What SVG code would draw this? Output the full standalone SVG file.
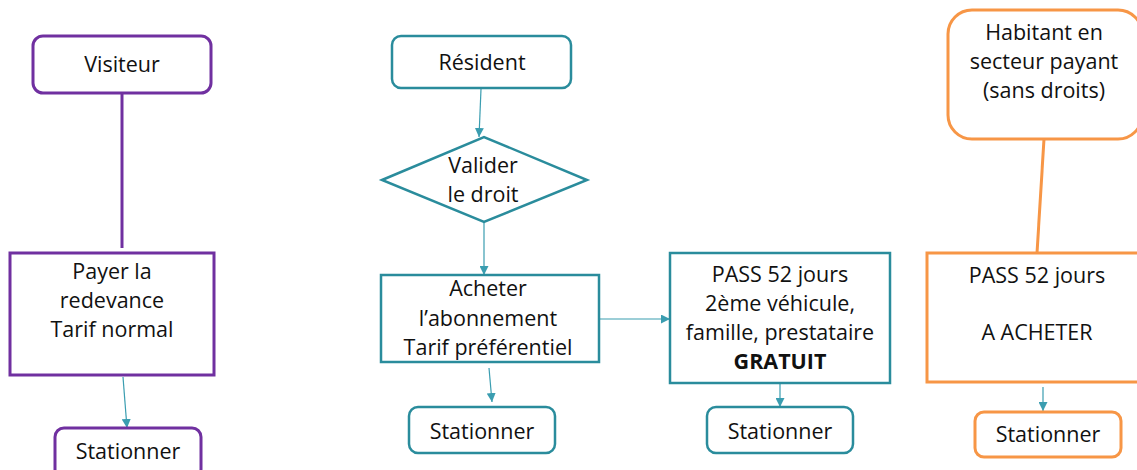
<svg xmlns="http://www.w3.org/2000/svg" width="1137" height="470" viewBox="0 0 1137 470">
<style>
text{font-family:"Open Sans","Liberation Sans",Arial,sans-serif;font-size:21.5px;fill:#111;text-anchor:middle}
.p{fill:#fff;stroke:#7030A0;stroke-width:3}
.t{fill:#fff;stroke:#2A8C9C;stroke-width:2.5}
.o{fill:#fff;stroke:#F79646;stroke-width:3}
.c{stroke:#3A9DB0;stroke-width:1.2;fill:none;marker-end:url(#ah)}
.b{font-weight:bold}
</style>
<defs>
<marker id="ah" viewBox="0 0 10 10" refX="10" refY="5" markerWidth="9" markerHeight="9" markerUnits="userSpaceOnUse" orient="auto">
<path d="M0,0 L10,5 L0,10 z" fill="#3A9DB0"/>
</marker>
</defs>
<rect width="1137" height="470" fill="#fff"/>
<g id="connectors">
<line x1="122" y1="93" x2="122" y2="248" stroke="#7030A0" stroke-width="3"/>
<line x1="123" y1="377" x2="127" y2="428" class="c"/>
<line x1="481" y1="89" x2="479" y2="137" class="c"/>
<line x1="484" y1="222" x2="484" y2="275" class="c"/>
<line x1="599" y1="319" x2="670" y2="319" class="c"/>
<line x1="489" y1="368" x2="492" y2="402" class="c"/>
<line x1="780" y1="384" x2="780" y2="407" class="c"/>
<line x1="1044" y1="139" x2="1037" y2="253" stroke="#F79646" stroke-width="3"/>
<line x1="1043" y1="387" x2="1043" y2="411" class="c"/>
</g>
<g id="visiteur"><rect class="p" x="33" y="36" width="178" height="57" rx="10"/><text x="122" y="72">Visiteur</text></g>
<g id="payer"><rect class="p" x="10" y="253" width="204" height="122"/>
<text x="112" y="279">Payer la</text><text x="112" y="308">redevance</text><text x="112" y="337">Tarif normal</text></g>
<g id="stationner1"><rect class="p" x="55" y="428" width="146" height="50" rx="9"/><text x="128" y="459">Stationner</text></g>
<g id="resident"><rect class="t" x="392" y="36" width="179" height="52" rx="9"/><text x="482" y="70">Résident</text></g>
<g id="valider"><polygon class="t" points="382,180 484,137 587,180 484,222"/>
<text x="483" y="173">Valider</text><text x="483" y="202">le droit</text></g>
<g id="acheter"><rect class="t" x="381" y="275" width="218" height="87"/>
<text x="488" y="296">Acheter</text><text x="488" y="326">l’abonnement</text><text x="488" y="355">Tarif préférentiel</text></g>
<g id="stationner2"><rect class="t" x="409" y="407" width="146" height="46" rx="9"/><text x="482" y="439">Stationner</text></g>
<g id="pass-gratuit"><rect class="t" x="670" y="253" width="220" height="130"/>
<text x="780" y="282">PASS 52 jours</text><text x="780" y="311">2ème véhicule,</text><text x="780" y="340">famille, prestataire</text><text class="b" x="780" y="369">GRATUIT</text></g>
<g id="stationner3"><rect class="t" x="707" y="407" width="146" height="46" rx="9"/><text x="780" y="439">Stationner</text></g>
<g id="habitant"><rect class="o" x="948" y="10" width="194" height="129" rx="24"/>
<text x="1044" y="40">Habitant en</text><text x="1044" y="69">secteur payant</text><text x="1044" y="98">(sans droits)</text></g>
<g id="pass-acheter"><rect class="o" x="927" y="253" width="215" height="129"/>
<text x="1037" y="283">PASS 52 jours</text><text x="1037" y="340">A ACHETER</text></g>
<g id="stationner4"><rect class="o" x="975" y="412" width="146" height="45" rx="9"/><text x="1048" y="442">Stationner</text></g>
</svg>
